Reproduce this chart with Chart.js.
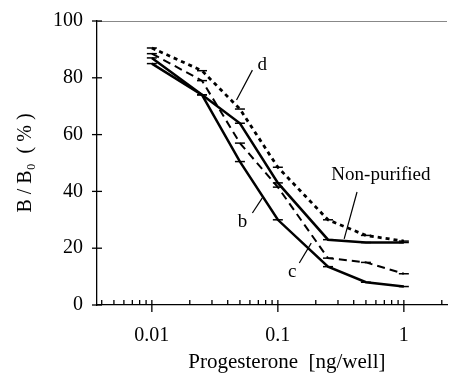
<!DOCTYPE html>
<html><head><meta charset="utf-8">
<script src="https://cdn.jsdelivr.net/npm/chart.js@4"></script>
<style>html,body{margin:0;padding:0;background:#fff}#wrap{width:455px;height:383px}</style>
</head><body><div id="wrap"><canvas id="c" width="455" height="383"></canvas></div>
<script>
const doses = [0.01, 0.025, 0.05, 0.1, 0.25, 0.5, 1];
const nonPurified = [87, 74, 64, 43, 23, 22, 22];
const seriesB = [85, 74, 50.5, 30, 13.5, 8, 6.5];
const seriesC = [88.5, 79, 57, 41.5, 16.5, 15, 11];
const seriesD = [90.5, 82.5, 69, 48.5, 30, 24.5, 22.5];
const yTicks = [0, 20, 40, 60, 80, 100];
const xMajor = [0.01, 0.1, 1];
const xMinor = [0.004,0.005,0.006,0.007,0.008,0.009,0.02,0.03,0.04,0.05,0.06,0.07,0.08,0.09,0.2,0.3,0.4,0.5,0.6,0.7,0.8,0.9,2];
const xTitle = 'Progesterone  [ng/well]';
const annotations = [
  {text:'d', x:0.0753, y:84.5, lx1:0.0628, ly1:82.7, lx2:0.047, ly2:72.2},
  {text:'Non-purified', x:0.658, y:45.8, lx1:0.425, ly1:39.8, lx2:0.336, ly2:23.3},
  {text:'b', x:0.0524, y:29.2, lx1:0.0628, ly1:32.4, lx2:0.0753, ly2:37.7},
  {text:'c', x:0.130, y:11.6, lx1:0.148, ly1:14.8, lx2:0.184, ly2:21.8}
];
const pts = arr => doses.map((x,i)=>({x, y:arr[i]}));
const serif = "'Liberation Serif', 'DejaVu Serif', serif";

const decor = {
  id:'decor',
  afterDraw(chart){
    const ctx = chart.ctx, xs = chart.scales.x, ys = chart.scales.y, a = chart.chartArea;
    ctx.save();
    ctx.strokeStyle = '#888'; ctx.lineWidth = 1;
    ctx.beginPath(); ctx.moveTo(a.left, a.top+0.5); ctx.lineTo(a.right, a.top+0.5); ctx.stroke();
    ctx.strokeStyle = '#000'; ctx.lineWidth = 1.3;
    const y0 = ys.getPixelForValue(0);
    xMinor.forEach(v=>{ const px = xs.getPixelForValue(v);
      ctx.beginPath(); ctx.moveTo(px, y0); ctx.lineTo(px, y0-5); ctx.stroke(); });
    xMajor.forEach(v=>{ const px = xs.getPixelForValue(v);
      ctx.beginPath(); ctx.moveTo(px, y0-5); ctx.lineTo(px, y0+7); ctx.stroke(); });
    yTicks.forEach(v=>{ const py = ys.getPixelForValue(v);
      ctx.beginPath(); ctx.moveTo(a.left-5, py); ctx.lineTo(a.left+5, py); ctx.stroke(); });
    ctx.fillStyle = '#000'; ctx.textAlign='center'; ctx.textBaseline='middle';
    ctx.font = '21px ' + serif;
    ctx.fillText(xTitle, xs.getPixelForValue(0.118), 362);
    ctx.font = '19px ' + serif;
    ctx.lineWidth = 1.2;
    annotations.forEach(an=>{
      ctx.fillText(an.text, xs.getPixelForValue(an.x), ys.getPixelForValue(an.y));
      ctx.beginPath();
      ctx.moveTo(xs.getPixelForValue(an.lx1), ys.getPixelForValue(an.ly1));
      ctx.lineTo(xs.getPixelForValue(an.lx2), ys.getPixelForValue(an.ly2));
      ctx.stroke();
    });
    ctx.restore();
  }
};

const common = {fill:false, borderColor:'#000', pointStyle:'line', pointRadius:5, pointBorderWidth:1.5, pointBorderColor:'#000', tension:0};
new Chart(document.getElementById('c'), {
  type:'line',
  data:{datasets:[
    {...common, label:'Non-purified', data:pts(nonPurified), borderWidth:2.5},
    {...common, label:'b', data:pts(seriesB), borderWidth:2.5},
    {...common, label:'c', data:pts(seriesC), borderWidth:2, borderDash:[8,5]},
    {...common, label:'d', data:pts(seriesD), borderWidth:2.8, borderDash:[4,4]}
  ]},
  options:{
    responsive:false, animation:false,
    layout:{padding:{top:21, right:8, left:0, bottom:0}},
    plugins:{legend:{display:false}, tooltip:{enabled:false}},
    scales:{
      x:{type:'logarithmic', min:0.00367, max:2.2,
        afterBuildTicks(s){ s.ticks = xMajor.map(v=>({value:v})); },
        afterFit(s){ s.height = 78; s.paddingLeft = 0; s.paddingRight = 0; },
        ticks:{callback:v=>String(v), color:'#000', font:{family:serif, size:20}, padding:19, maxRotation:0, autoSkip:false},
        grid:{display:false, drawTicks:false},
        border:{display:true, color:'#000', width:1.3},
        title:{display:false}
      },
      y:{min:0, max:100,
        afterBuildTicks(s){ s.ticks = yTicks.map(v=>({value:v})); },
        afterFit(s){ s.width = 97; s.paddingTop = 0; s.paddingBottom = 0; },
        ticks:{color:'#000', font:{family:serif, size:20}, padding:14},
        grid:{display:false, drawTicks:false},
        border:{display:true, color:'#000', width:1.3},
        title:{display:true, text:'B / B\u2080  ( % )', color:'#000', font:{family:serif, size:20}, padding:{top:14, bottom:0}}
      }
    }
  },
  plugins:[decor]
});
</script></body></html>
